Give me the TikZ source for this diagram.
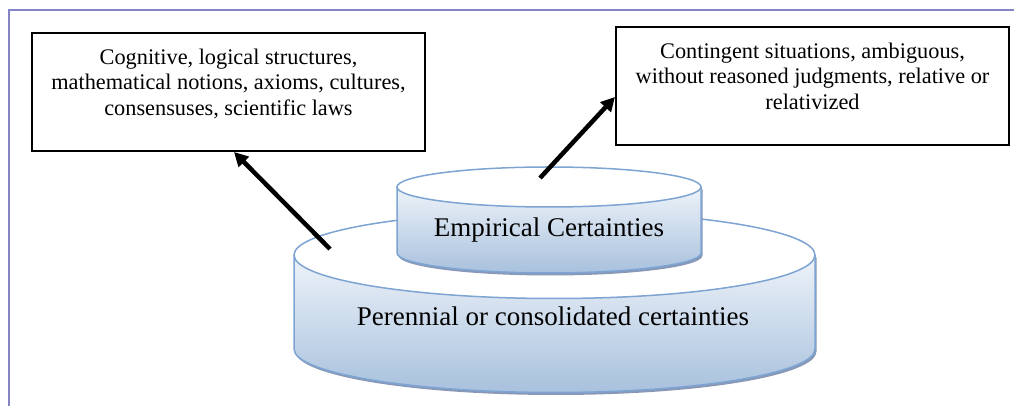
\documentclass[tikz,border=0pt]{standalone}
\usepackage{fontspec}
\setmainfont{Liberation Serif}
\newfontfamily\timesface{Liberation Serif}
\usetikzlibrary{arrows.meta}
\definecolor{frameblue}{HTML}{8484C6}
\definecolor{rimblue}{HTML}{7DA4D2}
\definecolor{sidetop}{HTML}{EEF3F9}
\definecolor{sidebot}{HTML}{A8C1DD}
\definecolor{shadowblue}{HTML}{8898B6}

% drum: #1 centre x, #2 x radius, #3 top centre y, #4 bottom centre y, #5 y radius
\newcommand\drum[5]{%
  \fill[shadowblue] (#1-#2+1.5,#3-2.5) -- (#1-#2+1.5,#4-2.5)
    arc[start angle=180,end angle=360,x radius=#2,y radius=#5]
    -- (#1+#2+1.5,#3-2.5) -- cycle;
  \shade[top color=sidetop,bottom color=sidebot] (#1-#2,#3) -- (#1-#2,#4)
    arc[start angle=180,end angle=360,x radius=#2,y radius=#5]
    -- (#1+#2,#3)
    arc[start angle=0,end angle=-180,x radius=#2,y radius=#5] -- cycle;
  \draw[rim] (#1-#2,#3) -- (#1-#2,#4)
    arc[start angle=180,end angle=360,x radius=#2,y radius=#5]
    -- (#1+#2,#3);
  \filldraw[rim,fill=white] (#1,#3) ellipse[x radius=#2,y radius=#5];
}

\begin{document}
\begin{tikzpicture}[x=1pt,y=1pt,
  infobox/.style={draw=black,line width=2pt,fill=white,inner sep=0pt,
    minimum width=393,minimum height=117.5,anchor=south west},
  infotext/.style={align=center,inner sep=0pt,anchor=north,
    font=\timesface\fontsize{22.3}{25.7}\selectfont},
  drumtext/.style={inner sep=0pt,anchor=base,font=\timesface\fontsize{27}{32}\selectfont},
  pointer/.style={line width=4.5pt,-{Triangle[width=14pt,length=14pt]}},
  rim/.style={draw=rimblue,line width=1.5pt}]
\useasboundingbox (0,0) rectangle (1014,406);

% page frame
\draw[frameblue,line width=1.3pt] (9,0) -- (9,396) -- (1014,396);

% the two drums
\drum{554.5}{260.5}{151}{57}{43.5}
\drum{549}{152}{219}{153}{20}
\node[drumtext] (perennial) at (553,80) {Perennial or consolidated certainties};
\node[drumtext] (empirical) at (549,169) {Empirical Certainties};

% text boxes
\node[infobox] (cogbox) at (31,254) {};
\node[infotext] (cogtext) at ([yshift=-16pt]cogbox.north)
  {Cognitive, logical structures,\\ mathematical notions, axioms, cultures,\\ consensuses, scientific laws};
\node[infobox] (ctxbox) at (615,260) {};
\node[infotext] (ctxtext) at ([yshift=-16pt]ctxbox.north)
  {Contingent situations, ambiguous,\\ without reasoned judgments, relative or\\ relativized};

% pointers
\coordinate (lowtail) at (330,157);
\coordinate (uptail) at (540,228);
\draw[pointer] (lowtail) -- ([xshift=203pt]cogbox.south west);
\draw[pointer] (uptail) -- ([yshift=49pt]ctxbox.south west);
\end{tikzpicture}
\end{document}
